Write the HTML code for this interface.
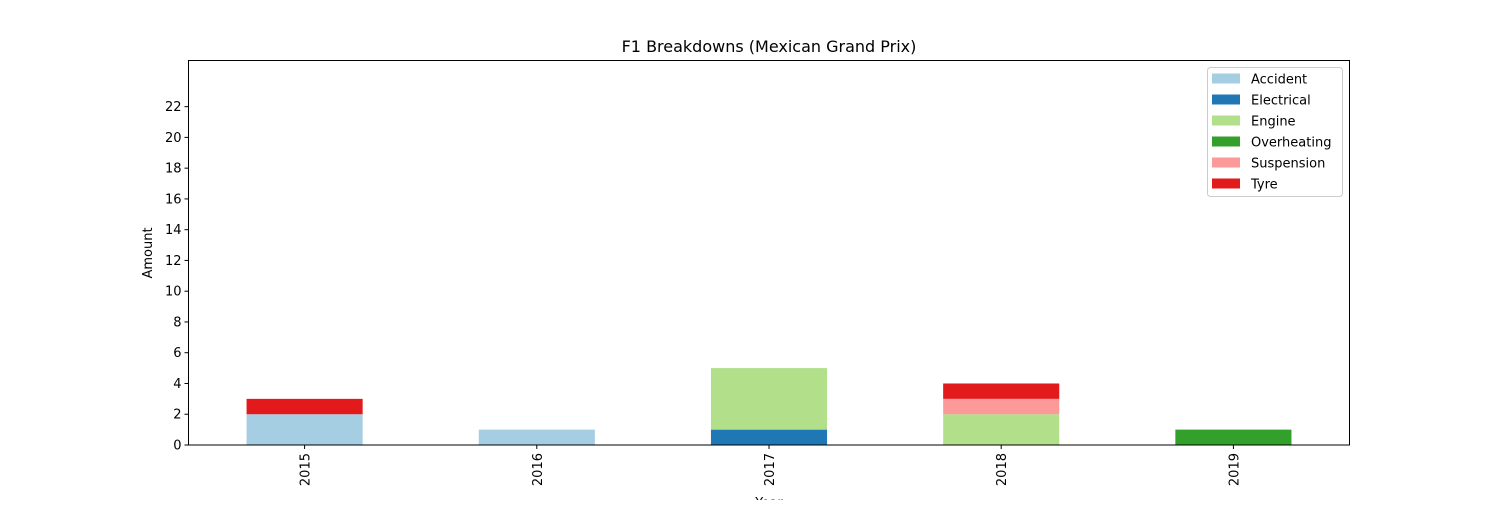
<!DOCTYPE html>
<html><head><meta charset="utf-8"><style>
html,body{margin:0;padding:0;background:#fff;}
svg text{font-family:"DejaVu Sans","Liberation Sans",sans-serif;fill:#000;}
</style></head><body>
<svg id="chart" width="1500" height="500" xmlns="http://www.w3.org/2000/svg">
<text x="769" y="52" font-size="16" text-anchor="middle">F1 Breakdowns (Mexican Grand Prix)</text>
<text transform="translate(152,253) rotate(-90)" font-size="13" text-anchor="middle">Amount</text>
<text x="769" y="507" font-size="13" text-anchor="middle">Year</text>
<g id="bars"></g>
<g id="axes"></g>
<rect x="188.5" y="60.5" width="1161" height="384.5" fill="none" stroke="#000" stroke-width="1"/>
<g id="legend"></g>
</svg>
<script>
const years = ["2015","2016","2017","2018","2019"];
const seriesNames = ["Accident","Electrical","Engine","Overheating","Suspension","Tyre"];
const accident = [2,1,0,0,0];
const electrical = [0,0,1,0,0];
const engine = [0,0,4,2,0];
const overheating = [0,0,0,0,1];
const suspension = [0,0,0,1,0];
const tyre = [1,0,0,1,0];
const yTicks = [0,2,4,6,8,10,12,14,16,18,20,22];
const colors = ["#a6cee3","#1f78b4","#b2df8a","#33a02c","#fb9a99","#e31a1c"];
const series = [accident,electrical,engine,overheating,suspension,tyre];

const L=188.5,R=1349.5,T=60.5,B=445,yMax=25;
const ns="http://www.w3.org/2000/svg";
const band=(R-L)/years.length;
function xc(i){return L+band*(i+0.5);}
function y(v){return B-(B-T)*v/yMax;}
const bars=document.getElementById('bars'), axes=document.getElementById('axes'), legend=document.getElementById('legend');
function mk(tag,attrs,parent){const e=document.createElementNS(ns,tag);for(const k in attrs)e.setAttribute(k,attrs[k]);parent.appendChild(e);return e;}

const bw=band*0.5;
years.forEach((yr,i)=>{
  let base=0;
  series.forEach((s,k)=>{
    const v=s[i]; if(!v) return;
    const r=mk('rect',{x:xc(i)-bw/2,y:y(base+v),width:bw,height:y(base)-y(base+v),fill:colors[k]},bars);
    
    
    base+=v;
  });
  const t=mk('line',{x1:xc(i),x2:xc(i),y1:B,y2:B+4,stroke:'#000'},axes);
  
  
  const lb=mk('text',{transform:`translate(${xc(i)+5},${B+8}) rotate(-90)`,'font-size':13,'text-anchor':'end'},axes);
  lb.textContent=yr;
  
  
});
yTicks.forEach(v=>{
  const t=mk('line',{x1:L-4,x2:L,y1:y(v),y2:y(v),stroke:'#000'},axes);
  
  
  const lb=mk('text',{x:L-7,y:y(v)+4.5,'font-size':13,'text-anchor':'end'},axes);
  lb.textContent=v;
  
  
});
const bg=mk('rect',{x:1207.5,y:67.5,width:135,height:129,rx:3,fill:'#fff','fill-opacity':0.8,stroke:'#ccc'},legend);


seriesNames.forEach((n,k)=>{
  const g=mk('g',{},legend);
  
  
  const cy=78.5+k*21;
  mk('rect',{x:1212,y:cy-5,width:28,height:10,fill:colors[k]},g);
  const t=mk('text',{x:1251,y:cy+5,'font-size':13},g);
  t.textContent=n;
});
</script>
</body></html>
